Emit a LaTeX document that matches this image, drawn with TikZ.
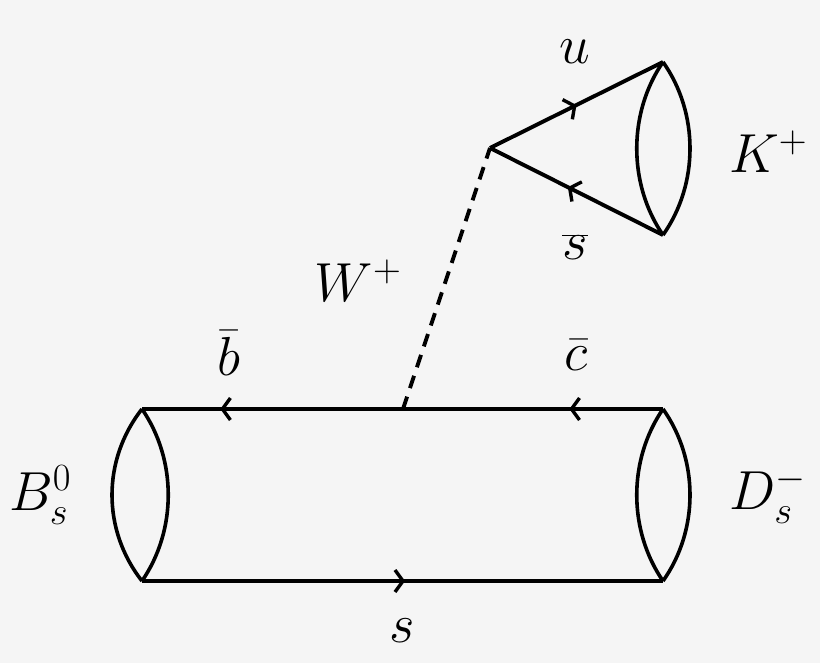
\documentclass[tikz,border=0pt]{standalone}
\usepackage{fix-cm}
\usetikzlibrary{arrows.meta,decorations.markings}
\definecolor{bg}{HTML}{F5F5F5}
\tikzset{
  quark/.style={line width=3.9pt,postaction={decorate},
    decoration={markings,mark=at position #1 with {\arrow{Straight Barb[length=8pt,width=22pt,line width=3.4pt]}}}},
  lens/.style={line width=3.6pt},
  boson/.style={line width=3.9pt,dash pattern=on 13pt off 9pt},
  lbl/.style={inner sep=0pt,font=\fontsize{55}{60}\selectfont}
}
\begin{document}
\begin{tikzpicture}[x=1pt,y=-1pt]
\fill[bg] (0,0) rectangle (820,663);
\useasboundingbox (0,0) rectangle (820,663);
% vertices
\coordinate (b1) at (142,409);
\coordinate (b2) at (142,581);
\coordinate (wv) at (403,409);
\coordinate (c1) at (663,409);
\coordinate (d2) at (663,581);
\coordinate (wk) at (490,148);
\coordinate (ku) at (663,62);
\coordinate (ks) at (663,235);
% quark lines
\draw[quark=0.7] (wv) -- (b1);
\draw[quark=0.36] (c1) -- (wv);
\draw[quark=0.505] (b2) -- (d2);
\draw[quark=0.5] (wk) -- (ku);
\draw[quark=0.55] (ks) -- (wk);
\draw[boson] (wv) -- (wk);
% lenses
\draw[lens] (b1) .. controls (102,460) and (102,530) .. (b2);
\draw[lens] (b1) .. controls (177,460) and (177,530) .. (b2);
\draw[lens] (c1) .. controls (628,460) and (628,530) .. (d2);
\draw[lens] (c1) .. controls (699,460) and (699,530) .. (d2);
\draw[lens] (ku) .. controls (628,113) and (628,184) .. (ks);
\draw[lens] (ku) .. controls (699,113) and (699,184) .. (ks);
% labels
\node[lbl] (lu) at (575,52) {$u$};
\node[lbl] (lk) at (768,152) {$K^+$};
\node[lbl] (ls) at (575,247) {$\overline{s}$};
\node[lbl] (lw) at (358,281) {$W^+$};
\node[lbl] (lb) at (229,353) {$\bar{b}$};
\node[lbl] (lc) at (576,355) {$\bar{c}$};
\node[lbl] (lB) at (40,495) {$B_s^0$};
\node[lbl] (lD) at (768,495) {$D_s^-$};
\node[lbl] (lss) at (402,631) {$s$};
\end{tikzpicture}
\end{document}
